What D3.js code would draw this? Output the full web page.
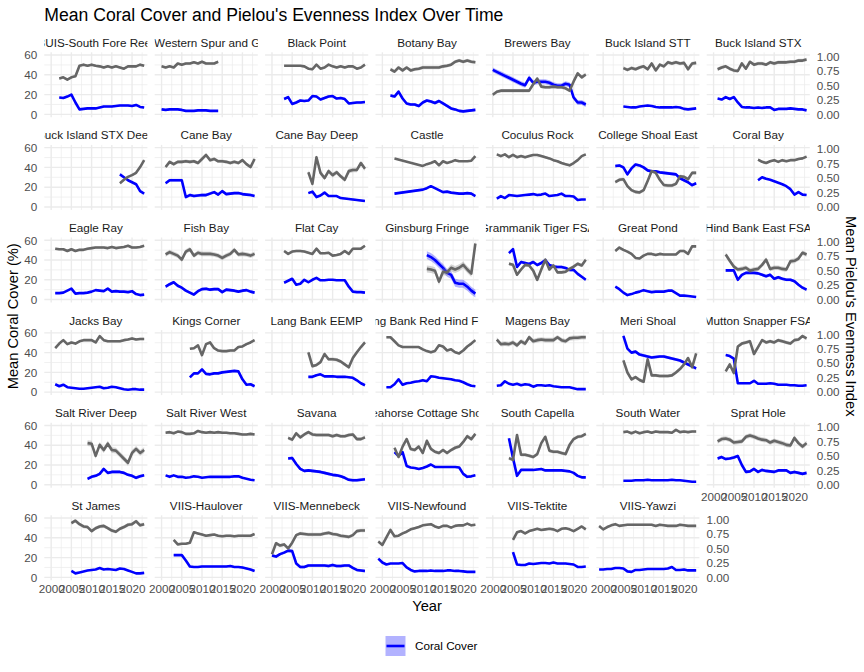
<!DOCTYPE html>
<html>
<head>
<meta charset="utf-8">
<script src="https://cdn.jsdelivr.net/npm/d3@7"></script>
<style>
  body { margin: 0; background: #fff; }
  svg { font-family: "Liberation Sans", Arial, sans-serif; }
</style>
</head>
<body>
<svg id="chart" width="864" height="672"></svg>
<script>
// sites in facet order
const sites = ["BUIS-South Fore Reef", "BUIS-Western Spur and Groove", "Black Point", "Botany Bay", "Brewers Bay",
  "Buck Island STT", "Buck Island STX", "Buck Island STX Deep", "Cane Bay", "Cane Bay Deep", "Castle",
  "Coculus Rock", "College Shoal East", "Coral Bay", "Eagle Ray", "Fish Bay", "Flat Cay", "Ginsburg Fringe",
  "Grammanik Tiger FSA", "Great Pond", "Hind Bank East FSA", "Jacks Bay", "Kings Corner", "Lang Bank EEMP",
  "Lang Bank Red Hind FSA", "Magens Bay", "Meri Shoal", "Mutton Snapper FSA", "Salt River Deep",
  "Salt River West", "Savana", "Seahorse Cottage Shoal", "South Capella", "South Water", "Sprat Hole",
  "St James", "VIIS-Haulover", "VIIS-Mennebeck", "VIIS-Newfound", "VIIS-Tektite", "VIIS-Yawzi"];

// first survey year of each site (one value per year after that)
const startYear = [2002, 2000, 2003, 2002, 2000, 2005, 2001, 2017, 2001, 2009, 2003,
  2001, 2003, 2011, 2001, 2001, 2003, 2011, 2004, 2003, 2003, 2001, 2007, 2009,
  2001, 2001, 2005, 2003, 2009, 2001, 2004, 2003, 2004, 2005, 2001, 2005, 2003,
  2000, 1999, 2005, 1999];

// mean coral cover (%)
const coral = [
  [17,16.5,18,20,12,5,5.5,6,6,6,7,8,8,8,8.5,9,9,9,8.5,9.5,7.5,7],
  [5,4.5,5,5,5,4.5,3.5,3.5,3.5,4,4,4,3.5,3.5,3.5],
  [15.5,17.5,10.5,12,14,13.5,14,18.5,18,15,16.5,18,18.5,16,16.5,15.5,11,11.5,12,12,12.5],
  [19,18,23,16,11,10,10,8.5,12,14,13,11.5,13.5,11,8.5,6,5,3.5,3,3.5,4,4.5],
  [45,43,41,39,37,35,33,31,29.5,37,32,33,33,33,32,30,29,29,31,30,17,12,12,10],
  [8,7.5,7,7,8,8.5,9,8.5,7.5,7,7,7,7,7.5,7,5.5,5,5.5,6],
  [16,15,17.5,15.5,17.5,12,7.5,7,7,6.5,7,6.5,7,7,4.5,5.5,5.5,5.5,6,5.5,5,5,4],
  [33,30,27,25,23,16,13.5],
  [24,27,27,27,27,10,12,11,11.5,12,12,13.5,15,12.5,16,13,13.5,14,14,13,12.5,12,11],
  [14,15.5,10,11.5,14.5,11,11,11,9,8.5,8,7.5,7,6.5,6],
  [13.5,null,null,null,null,null,null,17.5,19,21,19,17,15,15.5,14.5,14,13.5,13.5,14,13.5,11],
  [8.5,11,9,12,11.5,11,11.5,12,12.5,13,12,12.5,13.5,11,11.5,12,13.5,11,11,10.5,7,7.5,7.5],
  [41.5,42,40,33,39,43,42,40,37,36,36,35,34.5,34,33.5,33,29,27,25,22,24],
  [27,30,28.5,27.5,26,24.5,23,21,18,12.5,15,12.5,12],
  [6.5,6.5,7,9,11,6,6.5,6.5,7,8,9.5,9,8.5,11,8,8.5,8,8,7.5,8.5,5.5,4.5,5],
  [13,15.5,17.5,14,12,9,7,5,8.5,10.5,11,10,10.5,10.5,7.5,10,9.5,9,8,9,9.5,8,7],
  [17,19,21,15,16,20,17.5,20,22,19.5,19.5,20,20,19.5,19.5,19.5,13,8,7.5,7.5,7],
  [45,43,40,36,32,27,25,17,16,16,13,9,6],
  [47,51,33,38,37,36,38,35,37,40,35,33.5,33,33,32,30,30,26,23,20],
  [13,10.5,7,4.5,5.5,7,8,9.5,8.5,7.5,8,8,8,9,9,6.5,4,4,3.5,3,2.5],
  [29.5,29.5,29.5,20,25,27,27,27,26.5,25,23.5,25,21,22.5,21,20,20,18.5,15,12,10],
  [8,6,7.5,5,4.5,4,3.5,3.5,4,4.5,5,5.5,4,4.5,5.5,5,4,3,2.5,3,3,2.5,2.5],
  [15,19,19,23,18.5,18,19,19,20,20.5,21,21.5,21,13,7.5,8,6],
  [15.5,15.5,17,18,16,16,16,15.5,15.5,15.5,15,14.5,12,9,7],
  [5,5,8,13,7.5,9,9.5,10.5,11,12,11,16,15.5,14.5,14,13.5,13,12,11.5,10,8,6.5,6],
  [6.5,7,11,8.5,7.5,8.5,7,8,7.5,5.5,7,7,6.5,7,6,5.5,5,5,5,4,3,3,3],
  [57,44,40,41,38,37,36,35,35.5,36,36,35,34,33,32,30,28,26,24],
  [37.5,36.5,34,9,9,9,9,11.5,8.5,8.5,8.5,9,8.5,7.5,7.5,7.5,7,7,6.5,6.5,7],
  [6,8,9,11,16,12,13,13,13,12,10,9,7,8.5,9.5],
  [9.5,8,9.5,8,8,7,7.5,8.5,8,7,7.5,8,8,8,8,8,8,8.5,8.5,7,6,5,4.5],
  [26.5,27,21,16,14,14.5,14,13.5,13,12,11,10,9.5,8.5,7,5,4.5,4.5,5,5.5],
  [33,29,33,19,17.5,17,16,17,18.5,20.5,18,18,18,18,18,18,17.5,11,8,8.5,9.5],
  [47,27,9,15,15,15,15,15.5,16,14.5,14.5,14.5,14.5,14.5,14,13.5,12,9,7.5,7.5],
  [4,4,4,4.5,4.5,4.5,5,4.5,4.5,4.5,4.5,4.5,5,4.5,4.5,4,3.5,3,3],
  [26.5,28,26,26.5,27.5,29,20,13,13.5,16,13,15,14,13.5,13,14.5,14.5,14.5,12,13,12,11,12],
  [6.5,4,5,6,7,7.5,8,9.5,8,8.5,8,7.5,9,8.5,7,5.5,4,4,4.5],
  [22.5,22.5,22.5,17,11,10.5,10.5,11,11,11,11,11,11,11,11.5,10.5,10.5,10,9,8,6.5],
  [22,21,23.5,25,27,26.5,14,10.5,10.5,12,12,12,12,12,11.5,12.5,11.5,11.5,12,12,9.5,7.5,7,6.5],
  [19,15,13,14,14,14,14.5,10,7.5,6,6.5,6.5,6.5,7,6.5,6.5,6.5,7,7,6.5,6.5,6,5.5,5.5,5.5],
  [25.5,13,12.5,12.5,14,13.5,14,14.5,14.5,14,15,14,14,14,13.5,13,10.5,10.5,11],
  [8,8,8.5,8.5,9.5,9.5,9,6,5.5,7.5,7.5,8,8.5,8.5,8.5,8.5,8.5,9,10.5,7.5,7.5,8,7,7,7]
];

// mean Pielou's evenness (0-1)
const evenness = [
  [.62,.64,.60,.64,.66,.84,.86,.84,.86,.84,.83,.81,.83,.81,.83,.81,.79,.83,.83,.83,.86,.84],
  [.83,.81,.83,.81,.88,.86,.88,.88,.90,.88,.91,.88,.88,.88,.91],
  [.84,.84,.84,.84,.84,.83,.79,.78,.86,.79,.81,.86,.83,.81,.83,.81,.83,.83,.79,.81,.86],
  [.78,.74,.81,.76,.81,.76,.78,.79,.81,.81,.81,.81,.81,.83,.84,.86,.91,.93,.91,.93,.91,.90],
  [.34,.39,.41,.41,.41,.41,.41,.41,.41,.41,.52,.62,.48,.47,.47,.48,.47,.47,.45,.41,.57,.71,.64,.69],
  [.80,.77,.80,.78,.81,.83,.78,.88,.76,.86,.83,.90,.88,.90,.88,.89,.78,.88,.89],
  [.78,.81,.83,.79,.76,.75,.88,.79,.91,.86,.88,.88,.86,.90,.88,.90,.90,.90,.91,.91,.93,.93,.95],
  [.41,.47,.52,.55,.59,.69,.81],
  [.69,.78,.74,.78,.78,.79,.78,.79,.76,.83,.90,.81,.83,.79,.79,.78,.76,.78,.76,.81,.74,.69,.83],
  [.60,.40,.86,.59,.50,.62,.55,.60,.53,.47,.62,.64,.64,.76,.66],
  [.84,null,null,null,null,null,null,.71,.74,.76,.79,.72,.79,.76,.78,.81,.79,.79,.79,.80,.88],
  [.91,.88,.91,.86,.90,.86,.88,.86,.88,.90,.90,.88,.86,.84,.81,.79,.76,.74,.72,.76,.81,.88,.91],
  [.43,.47,.48,.36,.29,.26,.25,.29,.45,.62,.59,.47,.38,.37,.37,.40,.53,.52,.48,.59,.59],
  [.82,.78,.76,.79,.81,.78,.81,.79,.81,.81,.83,.84,.87],
  [.88,.87,.87,.84,.87,.84,.86,.86,.88,.89,.90,.90,.90,.89,.91,.89,.90,.91,.93,.90,.90,.91,.93],
  [.78,.82,.79,.76,.69,.83,.87,.76,.81,.79,.79,.79,.78,.76,.72,.76,.79,.86,.78,.79,.78,.76,.79],
  [.84,.79,.83,.84,.84,.83,.81,.79,.88,.80,.80,.81,.76,.77,.79,.84,.79,.88,.88,.88,.93],
  [.53,.52,.50,.31,.48,.47,.55,.52,.55,.60,.52,.45,.97],
  [.62,.60,.43,.52,.60,.59,.50,.34,.52,.69,.52,.59,.47,.47,.48,.53,.57,.62,.59,.69],
  [.84,.90,.86,.83,.79,.72,.71,.76,.79,.79,.77,.79,.78,.78,.78,.78,.84,.84,.79,.92,.92],
  [.78,.67,.57,.52,.53,.55,.50,.52,.53,.60,.69,.53,.55,.55,.53,.52,.66,.67,.71,.81,.78],
  [.76,.84,.90,.83,.86,.84,.88,.90,.90,.90,.86,.97,.90,.88,.88,.88,.88,.90,.91,.93,.91,.92,.92],
  [.75,.76,.81,.64,.83,.86,.76,.72,.71,.71,.72,.72,.78,.79,.83,.86,.90],
  [.69,.45,.47,.52,.66,.57,.57,.56,.53,.48,.43,.59,.69,.78,.86],
  [.95,.95,.88,.81,.78,.78,.78,.78,.78,.74,.71,.69,.71,.81,.79,.72,.74,.69,.67,.72,.79,.84,.90],
  [.91,.83,.84,.83,.86,.81,.88,.84,.95,.88,.90,.91,.90,.90,.90,.95,.90,.88,.93,.94,.94,.95,.95],
  [.55,.34,.22,.26,.21,.18,.57,.29,.29,.28,.28,.28,.29,.34,.40,.48,.59,.43,.67],
  [.36,.48,.33,.79,.84,.86,.88,.66,.78,.90,.86,.88,.86,.90,.88,.86,.84,.90,.91,.97,.93],
  [.72,.71,.50,.69,.60,.71,.60,.59,.52,.45,.38,.55,.62,.55,.60],
  [.90,.91,.89,.92,.91,.88,.88,.89,.93,.91,.90,.91,.90,.91,.90,.90,.89,.89,.88,.87,.87,.88,.87],
  [.81,.78,.89,.82,.87,.91,.87,.86,.86,.86,.86,.84,.86,.84,.84,.86,.87,.79,.79,.82],
  [.64,.48,.66,.79,.62,.60,.66,.55,.76,.62,.57,.55,.60,.55,.60,.64,.66,.74,.84,.79,.88],
  [.46,.43,.86,.52,.52,.50,.48,.53,.72,.83,.59,.57,.57,.55,.53,.69,.79,.83,.84,.88],
  [.91,.92,.89,.92,.89,.91,.92,.90,.92,.91,.91,.91,.90,.95,.91,.92,.91,.92,.92],
  [.75,.79,.80,.78,.73,.74,.75,.83,.85,.83,.80,.78,.77,.73,.76,.74,.72,.69,.68,.81,.72,.66,.72],
  [.94,.98,.92,.88,.87,.80,.85,.88,.89,.85,.81,.79,.84,.87,.91,.92,.97,.90,.92],
  [.65,.57,.58,.58,.60,.78,.76,.74,.72,.73,.74,.72,.71,.72,.72,.71,.72,.72,.72,.72,.75],
  [.40,.59,.55,.57,.50,.60,.73,.76,.75,.74,.74,.74,.74,.76,.77,.75,.74,.72,.71,.70,.73,.80,.81,.81],
  [.62,.56,.69,.82,.71,.72,.76,.79,.83,.85,.87,.90,.91,.92,.88,.86,.89,.89,.86,.89,.90,.90,.93,.90,.91],
  [.65,.78,.80,.76,.80,.82,.84,.82,.83,.84,.83,.80,.84,.85,.83,.80,.84,.88,.83],
  [.89,.83,.87,.90,.92,.89,.90,.91,.91,.91,.91,.91,.91,.91,.89,.91,.90,.89,.89,.89,.91,.90,.89,.89,.89]
];

// standard errors used for the ribbons
const coralSE = [1, .5, 1.2, 1.5, 2.5, .6, 1, 1, 1.5, 1, 1, .6, 1.5, .8, .6, 1.5, .8, 4, 1.5, .7, 1.5,
  .5, 1, 1, .8, .5, 1.5, 1, 1.5, .5, 1.5, 1, 1, .4, 1.5, .6, 1, 1.5, .6, .8, .6];
const evenSE = [.02, .02, .02, .03, .03, .03, .03, .02, .03, .04, .01, .02, .03, .02, .02, .04, .02, .06, .03, .02, .04,
  .02, .02, .03, .02, .04, .03, .03, .05, .02, .03, .03, .03, .02, .04, .03, .02, .03, .02, .02, .02];

const xTicks = [2000, 2005, 2010, 2015, 2020];
const xMinor = [2002.5, 2007.5, 2012.5, 2017.5, 2022.5];
const yTicks = [0, 20, 40, 60];
const yMinor = [10, 30, 50];
const evenTicks = [0, 0.25, 0.5, 0.75, 1];
const evenFactor = 58.5;   // evenness -> coral axis

const ncol = 7;
const left0 = 44.3, top0 = 52.3, stepX = 110.4, stepY = 92.6;
const pw = 103.1, ph = 65;
const txtCol = "#4D4D4D";

const svg = d3.select("#chart");

const x = d3.scaleLinear().domain([1998.3, 2023.8]).range([0, pw]);
const y = d3.scaleLinear().domain([-3, 62.8]).range([ph, 0]);

svg.append("text")
  .attr("x", left0).attr("y", 21)
  .attr("font-size", 17.6).attr("fill", "#000")
  .text("Mean Coral Cover and Pielou's Evenness Index Over Time");

const line = d3.line().x(d => x(d.year)).y(d => y(d.v));
const band = d3.area().x(d => x(d.year)).y0(d => y(d.lo)).y1(d => y(d.hi));

sites.forEach((name, i) => {
  const c = i % ncol, r = Math.floor(i / ncol);
  const g = svg.append("g")
    .attr("transform", "translate(" + (left0 + c * stepX) + "," + (top0 + r * stepY) + ")");

  // grid
  const grid = g.append("g");
  grid.selectAll("line.ymin").data(yMinor).enter().append("line")
    .attr("x1", 0).attr("x2", pw).attr("y1", d => y(d)).attr("y2", d => y(d))
    .attr("stroke", "#EBEBEB").attr("stroke-width", 0.7);
  grid.selectAll("line.xmin").data(xMinor).enter().append("line")
    .attr("y1", 0).attr("y2", ph).attr("x1", d => x(d)).attr("x2", d => x(d))
    .attr("stroke", "#EBEBEB").attr("stroke-width", 0.7);
  grid.selectAll("line.ymaj").data(yTicks).enter().append("line")
    .attr("x1", 0).attr("x2", pw).attr("y1", d => y(d)).attr("y2", d => y(d))
    .attr("stroke", "#EBEBEB").attr("stroke-width", 1.4);
  grid.selectAll("line.xmaj").data(xTicks).enter().append("line")
    .attr("y1", 0).attr("y2", ph).attr("x1", d => x(d)).attr("x2", d => x(d))
    .attr("stroke", "#EBEBEB").attr("stroke-width", 1.4);

  // strip label, clipped to panel width
  const sid = "strip" + i;
  g.append("clipPath").attr("id", sid).append("rect")
    .attr("x", 0).attr("y", -22).attr("width", pw).attr("height", 22);
  g.append("text")
    .attr("clip-path", "url(#" + sid + ")")
    .attr("x", pw / 2).attr("y", -5.5)
    .attr("text-anchor", "middle").attr("font-size", 11.7).attr("fill", "#1A1A1A")
    .text(name);

  // series
  const pid = "panel" + i;
  g.append("clipPath").attr("id", pid).append("rect")
    .attr("width", pw).attr("height", ph);
  const body = g.append("g").attr("clip-path", "url(#" + pid + ")");

  const cData = coral[i].map((v, k) => ({ year: startYear[i] + k, v: v }))
    .filter(d => d.v !== null)
    .map(d => ({ year: d.year, v: d.v, lo: d.v - coralSE[i], hi: d.v + coralSE[i] }));
  const eData = evenness[i].map((v, k) => ({ year: startYear[i] + k, v: v }))
    .filter(d => d.v !== null)
    .map(d => ({ year: d.year, v: d.v * evenFactor,
      lo: (d.v - evenSE[i]) * evenFactor, hi: (d.v + evenSE[i]) * evenFactor }));

  body.append("path").datum(cData).attr("d", band)
    .attr("fill", "#0000FF").attr("fill-opacity", 0.3);
  body.append("path").datum(cData).attr("d", line)
    .attr("fill", "none").attr("stroke", "#0000FF").attr("stroke-width", 2.6)
    .attr("stroke-linejoin", "round");
  body.append("path").datum(eData).attr("d", band)
    .attr("fill", "#888888").attr("fill-opacity", 0.35);
  body.append("path").datum(eData).attr("d", line)
    .attr("fill", "none").attr("stroke", "#666666").attr("stroke-width", 2.6)
    .attr("stroke-linejoin", "round");

  // axes
  if (c === 0) {
    const ax = g.append("g").call(d3.axisLeft(y).tickValues(yTicks).tickSize(0).tickPadding(7));
    ax.select(".domain").remove();
    ax.selectAll("text").attr("font-size", 11.7).attr("fill", txtCol)
      .attr("font-family", "Liberation Sans, Arial, sans-serif");
  }
  if (c === ncol - 1 || i === sites.length - 1) {
    const ey = d3.scaleLinear().domain(y.domain().map(v => v / evenFactor)).range([ph, 0]);
    const ax = g.append("g").attr("transform", "translate(" + pw + ",0)")
      .call(d3.axisRight(ey).tickValues(evenTicks).tickFormat(d3.format(".2f")).tickSize(0).tickPadding(7));
    ax.select(".domain").remove();
    ax.selectAll("text").attr("font-size", 11.7).attr("fill", txtCol)
      .attr("font-family", "Liberation Sans, Arial, sans-serif");
  }
  if (i + ncol >= sites.length) {
    const ax = g.append("g").attr("transform", "translate(0," + ph + ")")
      .call(d3.axisBottom(x).tickValues(xTicks).tickFormat(d3.format("d")).tickSize(0).tickPadding(4.7));
    ax.select(".domain").remove();
    ax.selectAll("text").attr("font-size", 11.7).attr("fill", txtCol)
      .attr("font-family", "Liberation Sans, Arial, sans-serif");
  }
});

// axis titles
const plotMidY = top0 + (5 * stepY + ph) / 2;
svg.append("text")
  .attr("transform", "translate(18," + plotMidY + ") rotate(-90)")
  .attr("text-anchor", "middle").attr("font-size", 14.7).attr("fill", "#000")
  .text("Mean Coral Cover (%)");
svg.append("text")
  .attr("transform", "translate(846," + plotMidY + ") rotate(90)")
  .attr("text-anchor", "middle").attr("font-size", 14.7).attr("fill", "#000")
  .text("Mean Pielou's Evenness Index");
svg.append("text")
  .attr("x", left0 + (6 * stepX + pw) / 2).attr("y", 611)
  .attr("text-anchor", "middle").attr("font-size", 14.7).attr("fill", "#000")
  .text("Year");

// legend
const lg = svg.append("g").attr("transform", "translate(385.5,636)");
lg.append("rect").attr("width", 20).attr("height", 20)
  .attr("fill", "#0000FF").attr("fill-opacity", 0.3);
lg.append("line").attr("x1", 1).attr("x2", 19).attr("y1", 10).attr("y2", 10)
  .attr("stroke", "#0000FF").attr("stroke-width", 2.6);
lg.append("text").attr("x", 29.5).attr("y", 14.2)
  .attr("font-size", 11.7).attr("fill", "#000").text("Coral Cover");
</script>
</body>
</html>
